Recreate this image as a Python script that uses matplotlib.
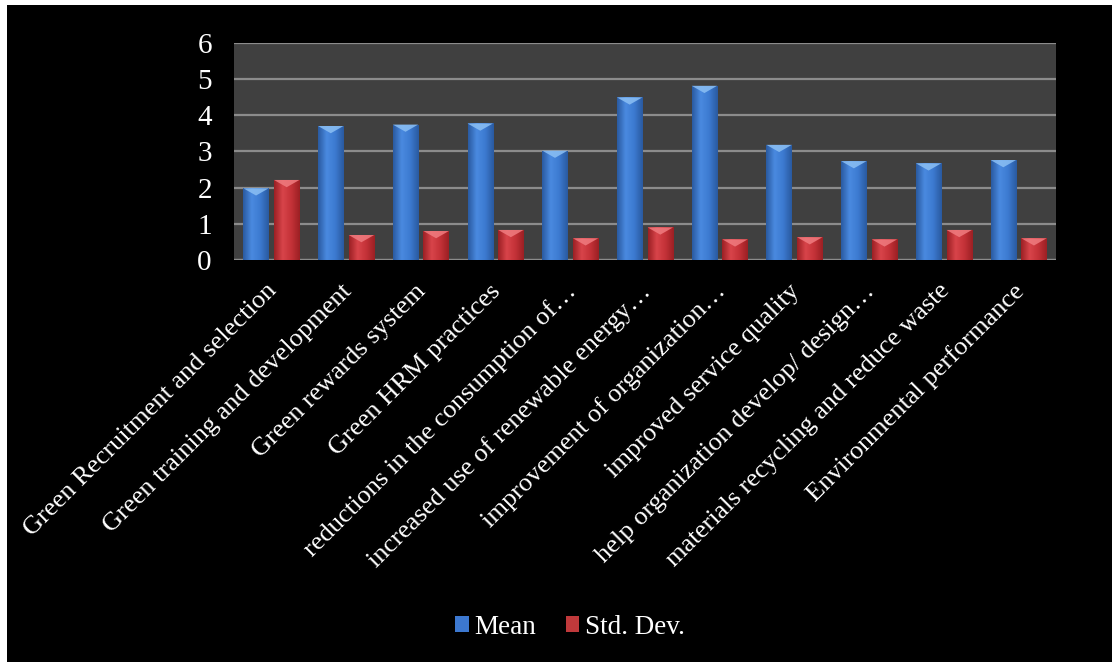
import numpy as np
import matplotlib
matplotlib.use("Agg")
import matplotlib.pyplot as plt
from matplotlib.patches import Rectangle, Polygon
from matplotlib.colors import LinearSegmentedColormap

categories = [
    "Green Recruitment and selection",
    "Green training and development",
    "Green rewards system",
    "Green HRM practices",
    "reductions in the consumption of\u2026",
    "increased use of renewable energy\u2026",
    "improvement of organization\u2026",
    "improved service quality",
    "help organization develop/ design\u2026",
    "materials recycling and reduce waste",
    "Environmental performance",
]
mean_values = [1.98, 3.70, 3.74, 3.77, 3.02, 4.49, 4.81, 3.18, 2.73, 2.67, 2.76]
std_values = [2.21, 0.69, 0.80, 0.83, 0.60, 0.90, 0.57, 0.63, 0.57, 0.83, 0.60]
series_names = ["Mean", "Std. Dev."]
yticks = [0, 1, 2, 3, 4, 5, 6]

plt.rcParams['font.family'] = ['Liberation Serif', 'DejaVu Serif']

W, H = 1112, 662
fig = plt.figure(figsize=(W / 100, H / 100), dpi=100, facecolor="white")
fig.patches.append(Rectangle((7 / W, 0), 1 - 7 / W, 1 - 5 / H, transform=fig.transFigure,
                             facecolor="black", edgecolor="none", zorder=-10))

ax = fig.add_axes([234 / W, 1 - 260 / H, (1056 - 234) / W, (260 - 42.7) / H])
ax.set_facecolor("#404040")
ax.set_xlim(-0.5, len(categories) - 0.5)
ax.set_ylim(0, 6)
ax.set_yticks(yticks)
ax.set_yticklabels([str(t) for t in yticks], color="white", fontsize=21)
ax.tick_params(axis="y", length=0, pad=16)
ax.tick_params(axis="x", length=0)
ax.yaxis.grid(True, color="#8c8c8c", linewidth=1.6)
ax.set_axisbelow(True)
for s in ax.spines.values():
    s.set_visible(False)

x = np.arange(len(categories))
width = 0.34
off = 0.205

blue_cmap = LinearSegmentedColormap.from_list("b", ["#2a5aa0", "#4a8ae0", "#3c7ad0", "#2a5aa0"])
red_cmap = LinearSegmentedColormap.from_list("r", ["#9c2024", "#d8444a", "#c43238", "#9c2024"])
grad = np.linspace(0, 1, 64).reshape(1, -1)

def draw(xpos, vals, cmap, base, bevel):
    bars = ax.bar(xpos, vals, width, color=base, zorder=2, linewidth=0)
    for b in bars:
        x0, w, h = b.get_x(), b.get_width(), b.get_height()
        im = ax.imshow(grad, cmap=cmap, aspect="auto", extent=(x0, x0 + w, 0, h),
                       zorder=3, interpolation="bicubic")
        im.set_clip_path(b)
        d = 0.2
        tri = Polygon([(x0, h), (x0 + w, h), (x0 + w * 0.5, h - d)], closed=True,
                      facecolor=bevel, edgecolor="none", zorder=4, alpha=0.85)
        ax.add_patch(tri)
    return bars

b1 = draw(x - off, mean_values, blue_cmap, "#3c78d0", "#8cc0f4")
b2 = draw(x + off, std_values, red_cmap, "#c0393b", "#f07c80")
ax.set_xticks(x)
ax.set_xticklabels([])
for xi, lab in zip(x, categories):
    ax.text(xi - 0.08, -0.55, lab, rotation=45, rotation_mode="anchor", ha="right", va="top",
            color="white", fontsize=19, transform=ax.transData)

ax.axhline(0, color="#8c8c8c", linewidth=1.6, zorder=1)

handles = [Rectangle((0, 0), 1, 1, facecolor="#3c78d0"), Rectangle((0, 0), 1, 1, facecolor="#c0393b")]
leg = fig.legend(handles, series_names, loc="center", bbox_to_anchor=(570 / W, 1 - 627 / H),
                 ncol=2, frameon=False, fontsize=19.5, labelcolor="white",
                 handlelength=0.5, handleheight=0.5, handletextpad=0.2, columnspacing=1.1)

fig.savefig("out.png", dpi=100, facecolor=fig.get_facecolor())
